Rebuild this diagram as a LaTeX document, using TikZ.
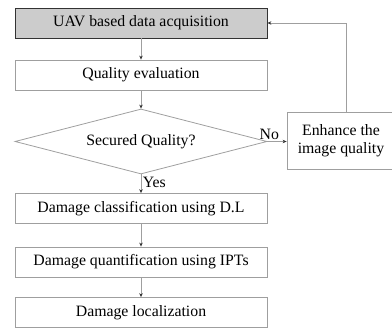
\documentclass[tikz,border=0pt]{standalone}
\usepackage{fontspec}
\setmainfont{Liberation Serif}
\usetikzlibrary{arrows.meta, positioning, shapes.geometric}

\begin{document}
\begin{tikzpicture}[x=1pt, y=1pt,
    box/.style={draw=gray!75, line width=0.8pt, minimum width=252pt, minimum height=30pt,
                inner sep=0pt, align=center, font=\fontsize{15.8}{17.5}\selectfont},
    decide/.style={diamond, draw=gray!75, line width=0.8pt, aspect=3.88, minimum width=252pt,
                minimum height=65pt, inner sep=0pt, font=\fontsize{15.8}{17.5}\selectfont},
    lbl/.style={font=\fontsize{15.8}{17.5}\selectfont, inner sep=1.5pt},
    arr/.style={-{Stealth[length=4pt, width=3.5pt, color=black!80]}, draw=gray!75, line width=0.8pt}
  ]
    \useasboundingbox (0,0) rectangle (392,329);

    \node[box, fill=gray!40, draw=black!80] (acq)   at (141,306) {UAV based data acquisition};
    \node[box]                    (eval)  at (141,254) {Quality evaluation};
    \node[decide]                 (check) at (141,187.5) {Secured Quality?};
    \node[box]                    (class) at (141,120.5) {Damage classification using D.L};
    \node[box]                    (quant) at (141,67) {Damage quantification using IPTs};
    \node[box]                    (local) at (141,16.5) {Damage localization};
    \node[box, minimum width=108pt, minimum height=57pt] (enh) at (341,188.5)
      {Enhance the\\image quality};

    \draw[arr] (acq) -- (eval);
    \draw[arr] (eval) -- (check);
    \draw[arr] (check.east) -- node[lbl, above, pos=0.1]{No} (enh.west |- check.east);
    \draw[arr] (check) -- node[lbl, right, pos=0.45]{Yes} (class);
    \draw[arr] (class) -- (quant);
    \draw[arr] (quant) -- (local);
    \draw[arr] (enh.north -| 346,0) |- (acq.east);
  \end{tikzpicture}
\end{document}
